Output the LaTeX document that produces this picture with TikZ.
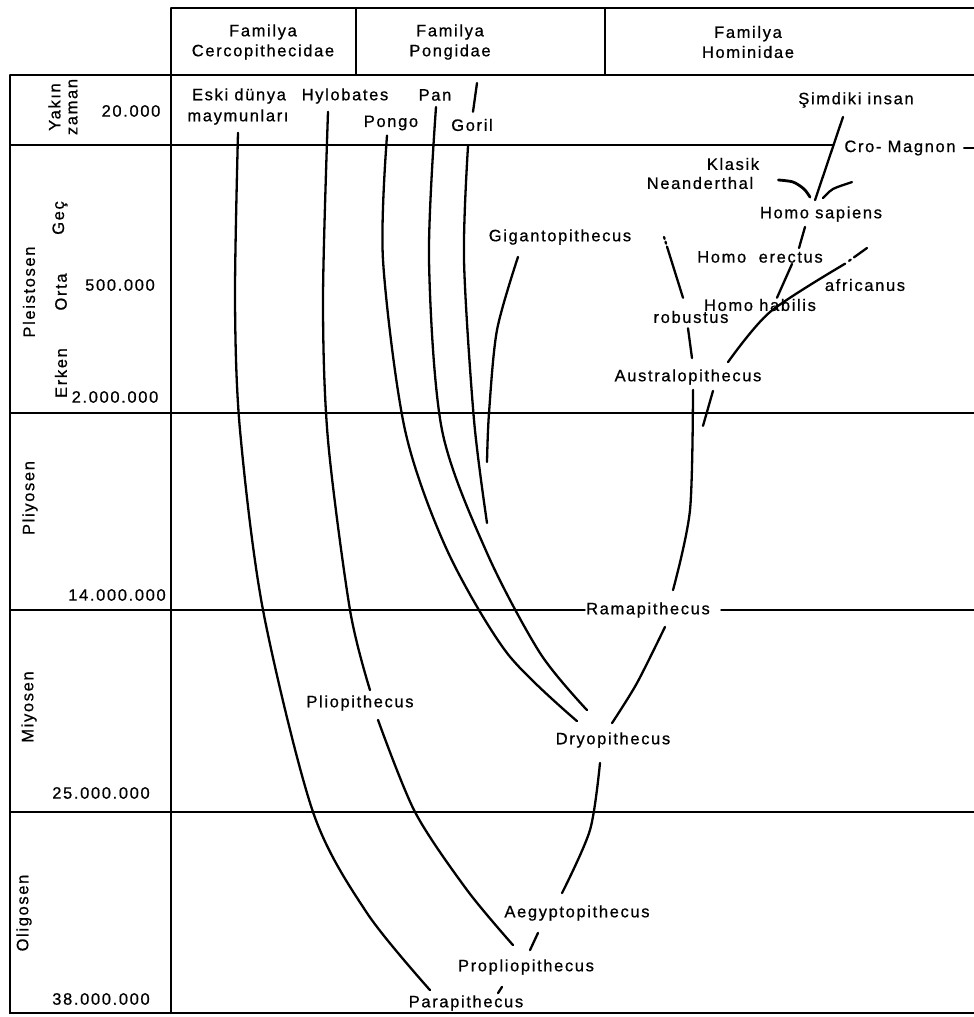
\documentclass[tikz,border=0pt]{standalone}
\usepackage{fontspec}
\setmainfont{Liberation Sans}
\newfontfamily\lettering[LetterSpace=10,FakeBold=0.7]{Liberation Sans}

\begin{document}
\begin{tikzpicture}[x=1pt,y=-1pt,cap=round,
  lbl/.style={inner sep=1pt,font=\lettering\fontsize{16.5}{20}\selectfont},
  era/.style={lbl,rotate=90},
  branch/.style={line width=2.3pt},
  rule/.style={line width=1.4pt}]
\useasboundingbox (0,0) rectangle (974,1017);
\coordinate (rEdge) at (974,0);
% table frame
\draw[rule] (171,8) -- (974,8) (10,75) -- (974,75);
\draw[rule] (10,75) -- (10,1013) -- (974,1013);
\draw[rule] (171,8) -- (171,1013) (356,8) -- (356,75) (605,8) -- (605,75);
\foreach \y in {413,812} \draw[rule] (10,\y) -- (974,\y);
% families
\node[lbl,align=center] (famC) at (263,42) {Familya\\Cercopithecidae};
\node[lbl,align=center] (famP) at (450,42) {Familya\\Pongidae};
\node[lbl,align=center] (famH) at (748,42) {Familya\\Hominidae};
% epochs and ages
\node[era,align=center,font=\lettering\fontsize{16.5}{17}\selectfont] (yakin) at (63,107) {Yakın\\zaman};
\node[era] (pleis) at (29,292) {Pleistosen};
\node[era] (gec) at (60,218) {Geç};
\node[era] (orta) at (61,292) {Orta};
\node[era] (erken) at (61,373) {Erken};
\node[era] (pliyo) at (30,498) {Pliyosen};
\node[era] (miyo) at (29,707) {Miyosen};
\node[era] (oligo) at (24,913) {Oligosen};
\node[lbl] (n20) at (131,111) {20.000};
\node[lbl] (n500) at (120,285) {500.000};
\node[lbl] (n2m) at (115,397) {2.000.000};
\node[lbl] (n14m) at (117,595) {14.000.000};
\node[lbl] (n25m) at (101,793) {25.000.000};
\node[lbl] (n38m) at (101,999) {38.000.000};
% taxa
\node[lbl] (eski) at (239,96) {Eski dünya};
\node[lbl] (maym) at (238,117) {maymunları};
\node[lbl] (hylo) at (345,96) {Hylobates};
\node[lbl] (pan) at (435,95) {Pan};
\node[lbl] (pongo) at (391,123) {Pongo};
\node[lbl] (goril) at (472,125) {Goril};
\node[lbl] (giga) at (560,237) {Gigantopithecus};
\node[lbl] (simdiki) at (856,100) {Şimdiki insan};
\node[lbl] (cro) at (900,148) {Cro- Magnon};
\node[lbl] (klasik) at (733,164) {Klasik};
\node[lbl] (neand) at (700,183) {Neanderthal};
\node[lbl] (sapiens) at (821,214) {Homo sapiens};
\node[lbl] (erectus) at (760,257) {Homo\ \ erectus};
\node[lbl] (afric) at (865,285) {africanus};
\node[lbl] (habilis) at (760,305) {Homo habilis};
\node[lbl] (robustus) at (691,317) {robustus};
\node[lbl] (austr) at (688,377) {Australopithecus};
\node[lbl] (rama) at (648,610) {Ramapithecus};
\node[lbl] (plio) at (360,703) {Pliopithecus};
\node[lbl] (dryo) at (613,740) {Dryopithecus};
\node[lbl] (aegy) at (577,913) {Aegyptopithecus};
\node[lbl] (propl) at (526,967) {Propliopithecus};
\node[lbl] (para) at (466,1003) {Parapithecus};
% broken rules
\draw[rule] (10,145) -- (833,145);
\draw[rule] ([xshift=7pt]cro.east) -- (cro.east -| rEdge);
\draw[rule] (10,610) -- (rama.west) ([xshift=10pt]rama.east) -- (rama.east -| rEdge);
% free ends
\coordinate (gorilTop) at (477,83);
\coordinate (gorilEnd) at (487,523);
\coordinate (gigaEnd) at (487,462);
\coordinate (robTop) at (664,237);
\coordinate (afrEnd) at (867,248);
% lineages
\draw[branch] plot[smooth] coordinates {([yshift=-7pt]maym.south) (235,300) (240,430)
  (263,610) (313,812) (367,913) ([xshift=-36pt,yshift=4pt]para.north)};
\draw[branch] plot[smooth] coordinates {([xshift=-17pt,yshift=-7pt]hylo.south) (323,300)
  (328,440) (350,610) ([xshift=10pt,yshift=4pt]plio.north)};
\draw[branch] plot[smooth] coordinates {([xshift=18pt,yshift=-8pt]plio.south) (415,812)
  (467,890) ([xshift=-13pt,yshift=13pt]propl.north)};
\draw[branch] plot[smooth] coordinates {([xshift=-4pt,yshift=-4pt]pongo.south) (383,260)
  (405,430) (447,550) (507,653) ([xshift=-36pt,yshift=10pt]dryo.north)};
\draw[branch] plot[smooth] coordinates {([xshift=1pt,yshift=-5pt]pan.south) (429,260)
  (442,430) (487,553) (540,653) ([xshift=-26pt,yshift=21pt]dryo.north)};
\draw[branch] ([xshift=1pt,yshift=6pt]goril.north) -- (gorilTop);
\draw[branch] plot[smooth] coordinates {([xshift=-4pt,yshift=-14pt]goril.south) (464,260)
  (474,420) (gorilEnd)};
\draw[branch] plot[smooth] coordinates {([xshift=-42pt,yshift=-11pt]giga.south) (497,330)
  (489,413) (gigaEnd)};
\draw[branch] plot[smooth] coordinates {([xshift=-1pt,yshift=8pt]dryo.north) (637,683)
  ([xshift=17pt,yshift=-8pt]rama.south)};
\draw[branch] plot[smooth] coordinates {([xshift=25pt,yshift=11pt]rama.north) (690,510)
  ([xshift=5pt,yshift=-4pt]austr.south)};
\draw[branch] ([xshift=15pt,yshift=-40pt]austr.south) -- ([xshift=25pt,yshift=-5pt]austr.south);
\draw[branch] plot[smooth] coordinates {([xshift=40pt,yshift=6pt]austr.north) (770,312)
  ([xshift=-20pt,yshift=14pt]afric.north)};
\draw[branch,dash pattern=on 0pt off 5pt on 2pt off 4pt on 14pt]
  ([xshift=-20pt,yshift=14pt]afric.north) -- (afrEnd);
\draw[branch,dash pattern=on 2pt off 3pt on 2pt off 3pt on 60pt]
  (robTop) -- ([xshift=-8pt,yshift=12pt]robustus.north);
\draw[branch] ([xshift=-3pt,yshift=-4pt]robustus.south) -- ([xshift=4pt,yshift=10pt]austr.north);
\draw[branch] ([xshift=17pt]habilis.north) -- ([xshift=32pt]erectus.south);
\draw[branch] ([xshift=39pt,yshift=2pt]erectus.north) -- ([xshift=-16pt,yshift=-4pt]sapiens.south);
\draw[branch] ([xshift=-6pt,yshift=5pt]sapiens.north) -- ([xshift=-13pt,yshift=-8pt]simdiki.south);
\draw[branch,line width=2.8pt] plot[smooth] coordinates {([xshift=24pt,yshift=3pt]neand.east) (793,182)
  (804,189) ([xshift=-11pt,yshift=8pt]sapiens.north)};
\draw[branch] plot[smooth] coordinates {([xshift=2pt,yshift=7pt]sapiens.north) (833,189)
  ([xshift=31pt,yshift=23pt]sapiens.north)};
\draw[branch] plot[smooth] coordinates {([xshift=-13pt,yshift=-14pt]dryo.south) (590,830)
  ([xshift=-15pt,yshift=11pt]aegy.north)};
\draw[branch] ([xshift=-39pt,yshift=-11pt]aegy.south) -- ([xshift=4pt,yshift=8pt]propl.north);
\draw[branch] ([xshift=-24pt,yshift=-11pt]propl.south) -- ([xshift=32pt,yshift=1pt]para.north);
\end{tikzpicture}
\end{document}
